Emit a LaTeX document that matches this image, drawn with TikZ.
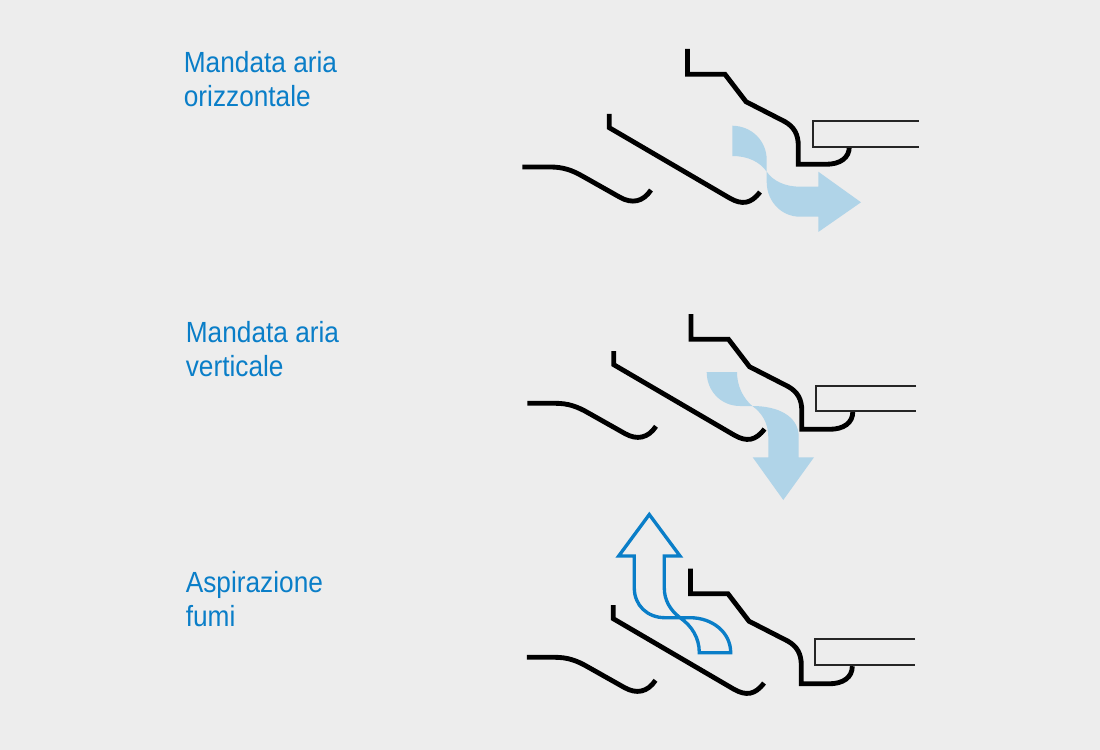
\documentclass[tikz,border=0pt]{standalone}
\usepackage{fontspec}
\setmainfont[FakeStretch=0.9]{Liberation Sans}
\definecolor{bggray}{HTML}{EDEDED}
\definecolor{airlight}{HTML}{B0D4E8}
\definecolor{airblue}{HTML}{0A7EC8}
\tikzset{
    wall/.style={draw=black, line width=2.75pt},
    shelf/.style={draw=black!85, line width=1.1pt},
    caption/.style={anchor=north west, inner sep=0pt, align=left, text=airblue, font=\fontsize{16.6}{19.2}\selectfont},
    pics/hood/.style={code={
        \draw[wall] (687.5,49) -- (687.5,74.3) -- (725,74.3) -- (746,101.7) -- (785,121.7) .. controls (794,127) and (798.3,134) .. (798.3,146) -- (798.3,164.3) -- (826,164.3) .. controls (840,164.3) and (849.3,158) .. (849.3,146.7);
    }},
    pics/vane/.style={code={
        \draw[wall] (609.3,114) -- (609.3,127.7) -- (730,198.3) .. controls (742,205) and (751,204) .. (760,192);
    }},
    pics/lip/.style={code={
        \draw[wall] (522.3,167) -- (550,167) .. controls (563,167) and (572,170) .. (584,177) -- (620,197.3) .. controls (632,204) and (643,202) .. (651,190);
    }},
}
\begin{document}
\begin{tikzpicture}[x=0.02cm, y=-0.02cm]
    \fill[bggray] (0,0) rectangle (1100,750);
    \useasboundingbox (0,0) rectangle (1100,750);

    \node[caption] (cap1) at (183.5,51.5) {Mandata aria\\orizzontale};
    \node[caption] (cap2) at (185.5,321.5) {Mandata aria\\verticale};
    \node[caption] (cap3) at (185.5,571.5) {Aspirazione\\fumi};

    % air arrows
    \fill[airlight] (732.3,125.7) .. controls (752,126) and (766.7,141) .. (766.7,160) -- (766.7,171.7) .. controls (773,181) and (785,186.7) .. (800,186.7) -- (818.3,186.7) -- (818.3,171.7) -- (861,202.3) -- (818.3,232) -- (818.3,216.7) -- (800,216.7) .. controls (781,216.7) and (766.7,201) .. (766.7,182) -- (766.7,171.7) .. controls (760,162) and (748,156) .. (732.3,156) -- cycle;
    \fill[airlight] (706.7,372) -- (737,372) .. controls (737,386) and (743,398) .. (752.3,406) .. controls (778,406) and (798.7,416) .. (798.7,436.7) -- (798.7,457.3) -- (814,457.3) -- (783.3,500) -- (752.7,457.3) -- (768.3,457.3) -- (768.3,437) .. controls (768.3,423) and (762,413) .. (752.3,406) -- (740,406) .. controls (721,406) and (706.7,391) .. (706.7,372) -- cycle;
    \draw[airblue, line width=1.9pt] (649.3,514.5) -- (680,556) -- (664.3,556) -- (664.3,588) .. controls (664.3,600) and (670,610) .. (680,617.7) .. controls (692,626) and (699.3,638) .. (699.3,652.7) -- (730.7,652.7) .. controls (730.7,632) and (712,617.7) .. (690,617.7) -- (665,617.7) .. controls (647,617.7) and (634.3,605) .. (634.3,588) -- (634.3,556) -- (618.7,556) -- cycle;

    % louvres
    \pic at (0,0) {hood};
    \pic at (0,0) {vane};
    \pic at (0,0) {lip};
    \pic at (3.5,265) {hood};
    \pic at (4.5,237) {vane};
    \pic at (5,236.3) {lip};
    \pic at (3,519.5) {hood};
    \pic at (4,491) {vane};
    \pic at (4.5,490.3) {lip};

    % shelves
    \foreach \xa/\xb/\ya/\yb in {813.3/918.7/120.7/146.7, 816/916/385.7/410.7, 815.3/915/639.3/665}{
        \draw[shelf] (\xb,\ya) -- (\xa,\ya) -- (\xa,\yb) -- (\xb,\yb);
    }
\end{tikzpicture}
\end{document}
